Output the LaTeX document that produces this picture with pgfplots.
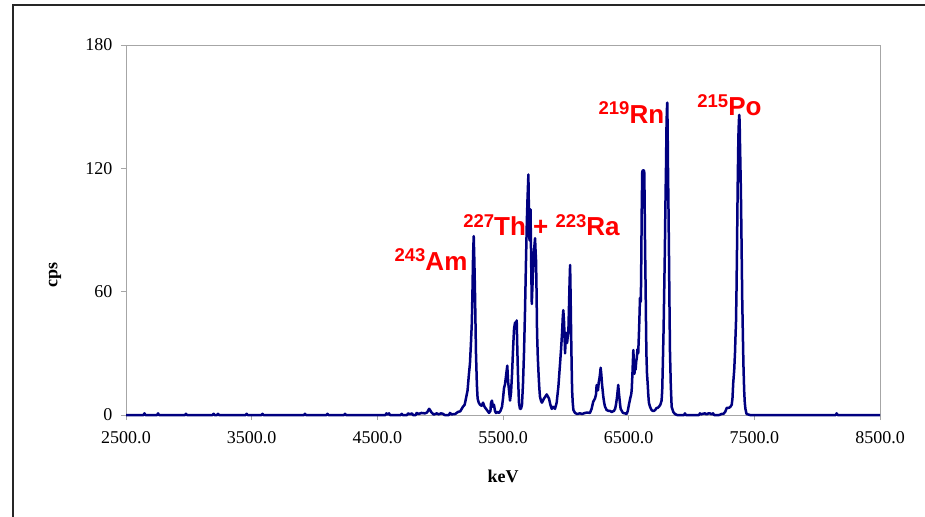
\documentclass[border=0pt]{standalone}
\usepackage{pgfplots}
\pgfplotsset{compat=1.18}
\usetikzlibrary{calc}
\usepackage{fontspec}
\setmainfont{Liberation Serif}
\newfontfamily\arial{Liberation Sans}
\definecolor{navy}{HTML}{000080}
\definecolor{axgray}{HTML}{A6A6A6}
\newcommand{\iso}[2]{{\arial\bfseries\fontsize{26}{26}\selectfont\raisebox{8.5pt}{\fontsize{18.5}{18.5}\selectfont #1}#2}}
\begin{document}
\begin{tikzpicture}[x=1pt,y=1pt]
\begin{axis}[
  scale only axis, width=754pt, height=370pt,
  xmin=2500, xmax=8500, ymin=0, ymax=180,
  xtick={2500,3500,4500,5500,6500,7500,8500},
  ytick={0,60,120,180},
  tick pos=left, tick align=outside,
  major tick length=5pt,
  axis line style={axgray, line width=0.9pt},
  tick style={axgray, line width=0.9pt},
  /pgf/number format/assume math mode=true,
  xticklabel={\pgfmathprintnumber[fixed, fixed zerofill, precision=1, 1000 sep={}]{\tick}},
  yticklabel={\pgfmathprintnumber[fixed, precision=0, 1000 sep={}]{\tick}},
  ticklabel style={font=\fontsize{18}{18}\selectfont, text=black},
  xticklabel style={yshift=-8pt},
  yticklabel style={xshift=-5pt},
  xlabel={\textbf{keV}},
  ylabel={\textbf{cps}},
  label style={font=\fontsize{18}{18}\selectfont},
  xlabel style={at={(axis description cs:0.5,-0.165)}, anchor=center},
  ylabel style={at={(axis description cs:-0.094,0.378)}, anchor=center, rotate=0},
  clip=false,
]
\coordinate (bl) at (rel axis cs:0,0);
\addplot[navy, line width=2.5pt, line join=round, no markers] coordinates {
(2500,0)(2640,0)(2647,0.8)(2654,0)(2748,0)(2755,0.8)(2762,0)(2970,0)(2977,0.6)(2984,0)(3190,0)(3197,0.6)(3204,0)(3225,0)(3232,0.6)(3239,0)(3453,0)(3460,0.6)(3467,0)(3579,0)(3586,0.6)(3593,0)(3917,0)(3924,0.6)(3931,0)(4096,0)(4103,0.6)(4110,0)(4236,0)(4243,0.6)(4250,0)(4565,0)(4572,0.8)(4580,0.2)(4593,0.8)(4600,0)(4687,0)(4694,0.6)(4701,0)(4737,0)(4744,0.8)(4760,0.3)(4776,0.8)(4783,0)(4806,0)(4813,1)(4830,0.5)(4850,1)(4879,0.8)(4895,1.2)(4903,2)(4912,3)(4919,2.5)(4928,1.5)(4935,1)(4950,0.2)(4972,0.8)(4990,0.3)(5005,0.8)(5022,0.6)(5035,0)(5070,0)(5078,1)(5090,0.3)(5120,0.5)(5142,1.5)(5160,1.8)(5181,4)(5195,5)(5205,8)(5218,12)(5229,20)(5237,25)(5245,35)(5252,45)(5257,60)(5262,78)(5267,87)(5272,75)(5277,60)(5281,45)(5285,30)(5292,15)(5298,8)(5307,6)(5317,5)(5330,4.5)(5341,6)(5353,4)(5365,3)(5377,2)(5389,1)(5400,2)(5405,6)(5412,7)(5420,4)(5428,5)(5436,2)(5444,1)(5456,1.5)(5468,1)(5480,2)(5492,4)(5500,8)(5508,13)(5516,15)(5526,20)(5534,24)(5541,16)(5548,12)(5556,7)(5564,11)(5572,20)(5580,32)(5588,42)(5596,45)(5602,42)(5609,46)(5614,32)(5619,20)(5627,6)(5635,3)(5643,3)(5651,5)(5659,15)(5667,30)(5675,50)(5683,75)(5690,95)(5695,105)(5702,117)(5706,100)(5711,85)(5715,95)(5719,100)(5724,75)(5729,54)(5734,62)(5739,70)(5747,80)(5755,86)(5759,80)(5763,75)(5767,60)(5771,40)(5777,28)(5783,20)(5788,14)(5794,9)(5802,7)(5810,6)(5818,7)(5826,8)(5837,9)(5848,10)(5857,9)(5866,8)(5877,5)(5888,3)(5898,4)(5906,3.5)(5914,3)(5927,6)(5941,14)(5948,20)(5954,25)(5962,32)(5970,40)(5976,48)(5980,51)(5986,45)(5990,38)(5994,30)(5998,36)(6002,40)(6006,37)(6010,35)(6015,38)(6020,40)(6026,55)(6030,65)(6034,73)(6038,58)(6042,40)(6046,25)(6050,12)(6055,6)(6060,2.5)(6073,1)(6090,0.5)(6113,0.8)(6130,0.5)(6152,1)(6170,1.2)(6192,1)(6205,3)(6218,6.5)(6232,8)(6240,10)(6245,14.6)(6251,12)(6256,12)(6262,16)(6268,18)(6272,20)(6277,23)(6282,20)(6288,15)(6293,12)(6298,9)(6305,6)(6312,4)(6325,2.4)(6340,2)(6351,2)(6365,1.5)(6383,2)(6392,3)(6399,5)(6408,9)(6417,14.6)(6422,11)(6427,8)(6432,5)(6436,3)(6445,2)(6455,1)(6470,0.8)(6484,0.5)(6493,2)(6502,5)(6512,8)(6520,10)(6524,12)(6530,20)(6537,31.6)(6542,25)(6546,20)(6550,24)(6555,22)(6560,26)(6565,28)(6570,32)(6576,30)(6582,40)(6587,50)(6590,57)(6593,56)(6596,55)(6599,65)(6601,80)(6604,100)(6608,118)(6612,119)(6617,119)(6621,119)(6624,118)(6627,105)(6629,90)(6632,75)(6635,61)(6638,45)(6641,30)(6646,20)(6651,15.6)(6656,10)(6661,6)(6670,4)(6682,2.4)(6692,2)(6701,2)(6712,2.5)(6722,3.4)(6732,3.5)(6741,4)(6752,5)(6762,7)(6767,12)(6772,25)(6778,42)(6783,61)(6788,80)(6792,100)(6797,120)(6801,140)(6804,148)(6807,152)(6810,140)(6813,120)(6817,100)(6821,77)(6825,52)(6829,30)(6835,15)(6842,4)(6855,1.5)(6868,0.5)(6885,0)(6941,0)(6948,0.8)(6955,0)(7060,0)(7067,0.8)(7075,0.3)(7090,0.6)(7107,0.8)(7120,0.3)(7135,0.8)(7147,0.8)(7160,0.3)(7171,0.8)(7180,0)(7220,0)(7240,0.5)(7255,0.6)(7268,1.5)(7280,3.4)(7290,3.5)(7298,3.5)(7310,4)(7320,5)(7326,8)(7332,15.6)(7340,22)(7346,30)(7350,38)(7354,45)(7358,60)(7362,80)(7367,109)(7373,135)(7377,143)(7380,146)(7383,143)(7385,135)(7389,122)(7393,109)(7397,90)(7401,70)(7404,55)(7407,45)(7413,25)(7419,12)(7424,6)(7429,3)(7438,0.5)(7465,0)(8148,0)(8155,0.8)(8162,0)(8500,0)
};
\node[red, anchor=base, inner sep=0pt] at (axis cs:4927,70.5) {\iso{243}{Am}};
\node[red, anchor=base, inner sep=0pt] at (axis cs:5806,87.1) {\iso{227}{Th + }\iso{223}{Ra}};
\node[red, anchor=base, inner sep=0pt] at (axis cs:6522,142) {\iso{219}{Rn}};
\node[red, anchor=base, inner sep=0pt] at (axis cs:7302,145.5) {\iso{215}{Po}};
\end{axis}
\pgfresetboundingbox
\path[use as bounding box] ($(bl)+(-126,-101)$) rectangle ($(bl)+(799,415)$);
\draw[line width=2pt, black!85] ($(bl)+(-113,-102)$) -- ($(bl)+(-113,410)$) -- ($(bl)+(800,410)$);
\end{tikzpicture}
\end{document}
